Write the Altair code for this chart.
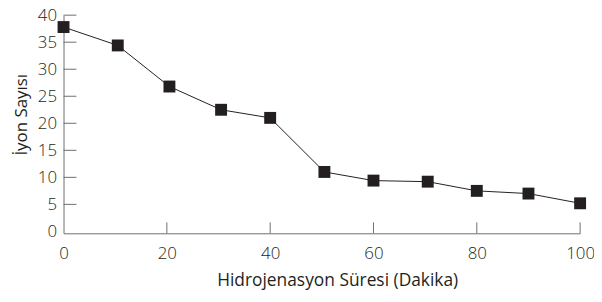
import altair as alt
import pandas as pd

# Data
sure = [0, 10.5, 20.5, 30.5, 40, 50.5, 60, 70.5, 80, 90, 100]
iyon = [37.8, 34.4, 26.8, 22.5, 21.0, 11.0, 9.4, 9.2, 7.5, 7.0, 5.2]
x_labels = [0, 20, 40, 60, 80, 100]
y_labels = [0, 5, 10, 15, 20, 25, 30, 35, 40]
x_ticks = [20, 40, 60, 80, 100]
y_ticks = [5, 10, 15, 20, 25, 30, 35, 40]

df = pd.DataFrame({"sure": sure, "iyon": iyon})
xt = pd.DataFrame({"sure": x_ticks})
yt = pd.DataFrame({"iyon": y_ticks})

W, H = 521, 220
FONT = "Open Sans"
DARK = "#231f20"
AXC = "#6d6e71"

xscale = alt.Scale(domain=[0, 100], nice=False, zero=False)
yscale = alt.Scale(domain=[-0.35, 40], nice=False, zero=False)

xaxis = alt.Axis(
    values=x_labels, ticks=False, tickSize=0, grid=False,
    labelFlush=False, labelOverlap=False,
    labelFont=FONT, labelFontSize=17, labelColor=DARK, labelPadding=12,
    labelFontWeight=300,
    title="Hidrojenasyon Süresi (Dakika)", titleFont=FONT, titleFontSize=17.5,
    titleFontWeight="normal", titleColor=DARK, titleX=276, titleY=53,
    titleAlign="center", titleBaseline="alphabetic",
    domainColor=AXC, domainWidth=1,
)
yaxis = alt.Axis(
    values=y_labels, ticks=False, tickSize=0, grid=False,
    labelFlush=False, labelOverlap=False,
    labelFont=FONT, labelFontSize=17, labelColor=DARK, labelPadding=7,
    labelFontWeight=300,
    title="İyon Sayısı", titleFont=FONT, titleFontSize=17,
    titleFontWeight="normal", titleColor=DARK, titleX=-42, titleY=100,
    titleAngle=270, titleAlign="center", titleBaseline="middle",
    domainColor=AXC, domainWidth=1,
)

X = alt.X("sure:Q", scale=xscale, axis=xaxis, title="Hidrojenasyon Süresi (Dakika)")
Y = alt.Y("iyon:Q", scale=yscale, axis=yaxis, title="İyon Sayısı")

line = alt.Chart(df).mark_line(color=DARK, strokeWidth=1).encode(x=X, y=Y)
pts = alt.Chart(df).mark_point(
    shape="square", filled=True, size=144, color=DARK, opacity=1
).encode(x=X, y=Y)
xtick = alt.Chart(xt).mark_rule(color=AXC, strokeWidth=1).encode(
    x=X,
    y=alt.value(H),
    y2=alt.value(H - 11),
)
ytick = alt.Chart(yt).mark_rule(color=AXC, strokeWidth=1).encode(
    y=Y,
    x=alt.value(0),
    x2=alt.value(13),
)

chart = alt.layer(xtick, ytick, line, pts).properties(
    width=W, height=H,
    background="white",
    autosize=alt.AutoSizeParams(type="none"),
    padding={"left": 56, "top": 6, "right": 14, "bottom": 62},
).configure_view(stroke=None)

chart.save("out.html", embed_options={"renderer": "svg", "actions": False})
